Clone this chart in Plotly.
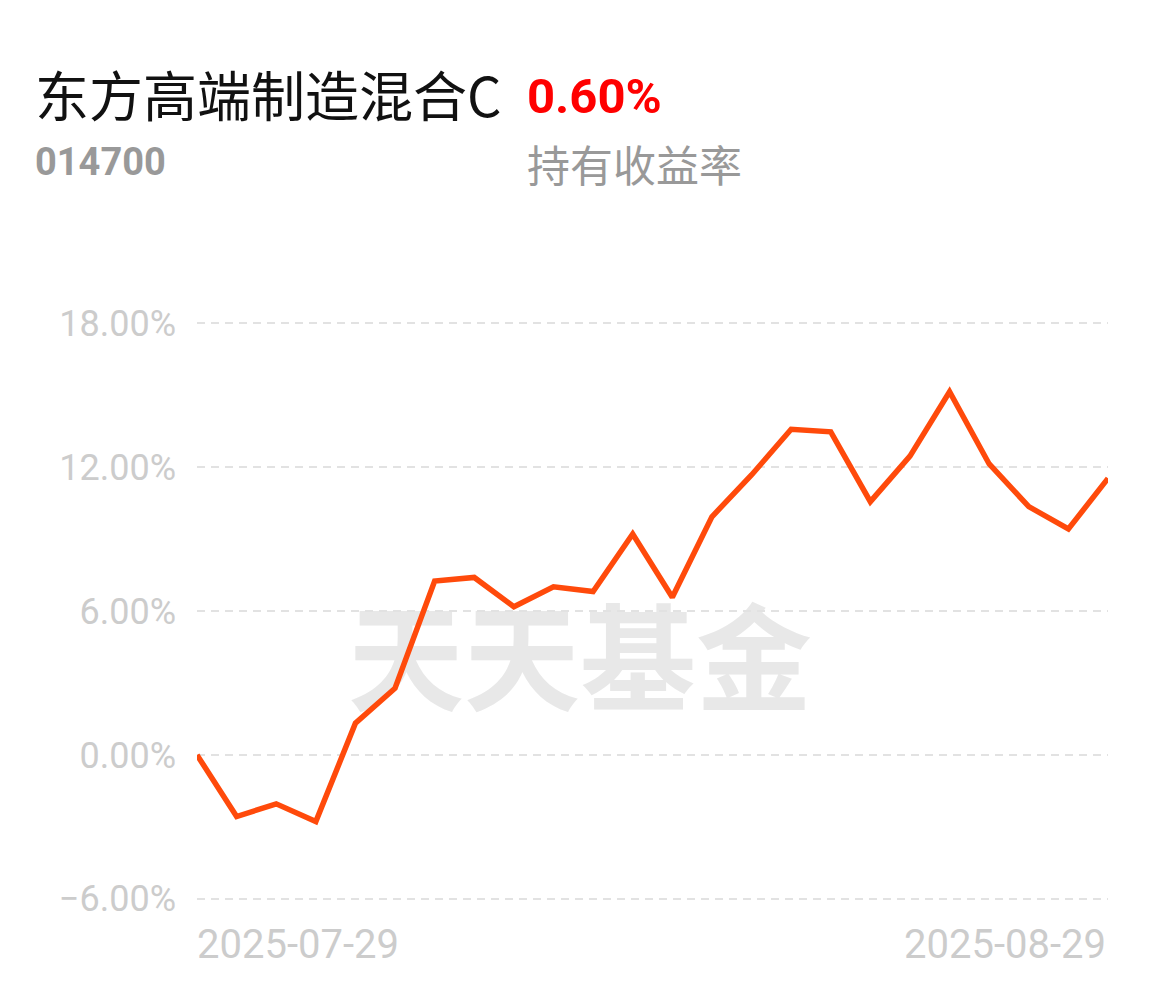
import plotly.graph_objects as go

dates = ["2025-07-29", "2025-07-30", "2025-07-31", "2025-08-01",
         "2025-08-04", "2025-08-05", "2025-08-06", "2025-08-07", "2025-08-08",
         "2025-08-11", "2025-08-12", "2025-08-13", "2025-08-14", "2025-08-15",
         "2025-08-18", "2025-08-19", "2025-08-20", "2025-08-21", "2025-08-22",
         "2025-08-25", "2025-08-26", "2025-08-27", "2025-08-28", "2025-08-29"]
returns = [0.00, -2.57, -2.04, -2.78, 1.32, 2.78, 7.25, 7.40, 6.18, 7.01,
           6.81, 9.21, 6.57, 9.93, 11.67, 13.58, 13.47, 10.56, 12.46, 15.14,
           12.13, 10.35, 9.42, 11.53]
y_ticks = [-6, 0, 6, 12, 18]
y_ticktext = ["\u22126.00%", "0.00%", "6.00%", "12.00%", "18.00%"]
fund_name = "东方高端制造混合C"
fund_code = "014700"
hold_return = "0.60%"
hold_label = "持有收益率"
watermark = "天天基金"

OFF = 8  # page body margin
W, H = 1150, 978
L, R, T, B = 189, 50, 314, 86
PW, PH = W - L - R, H - T - B


def px(x):
    return (x - OFF - L) / PW


def py(y):
    return (H - B - (y - OFF)) / PH


fig = go.Figure()
fig.add_trace(go.Scatter(
    x=dates, y=returns, mode="lines",
    line=dict(color="#FF4A0B", width=5.5),
    hoverinfo="skip", showlegend=False,
))

fig.update_layout(
    width=W, height=H, autosize=False,
    margin=dict(l=L, r=R, t=T, b=B, pad=0),
    paper_bgcolor="white", plot_bgcolor="white",
    showlegend=False,
    font=dict(family="Roboto, 'Noto Sans CJK SC', sans-serif"),
    xaxis=dict(type="category", range=[0, len(dates) - 1],
               showgrid=False, zeroline=False, showline=False,
               showticklabels=False, ticks=""),
    yaxis=dict(range=[-6.05, 18.05], tickvals=y_ticks, ticktext=y_ticktext,
               showgrid=True, gridcolor="#e2e2e2",
               gridwidth=2, griddash="8px,6px", zeroline=False,
               showline=False, ticks="", ticklabelstandoff=20,
               tickfont=dict(family="Roboto", size=36, color="#cccccc")),
)

fig.add_shape(type="rect", xref="paper", yref="paper",
              x0=px(330), x1=px(830), y0=py(730), y1=py(610),
              line=dict(width=0), fillcolor="rgba(0,0,0,0)", layer="below",
              label=dict(text=watermark, textposition="middle center",
                         font=dict(family="Noto Sans CJK SC", size=116,
                                   color="#e8e8e8", weight="bold")))

ann = [
    dict(text=fund_name, x=px(33), y=py(94), xanchor="left", yanchor="middle",
         font=dict(family="Noto Sans CJK SC", size=54, color="#111111")),
    dict(text="<b>" + hold_return + "</b>", x=px(525), y=py(97), xanchor="left",
         yanchor="middle",
         font=dict(family="Roboto", size=49, color="#ff0000")),
    dict(text="<b>" + fund_code + "</b>", x=px(33), y=py(162), xanchor="left",
         yanchor="middle",
         font=dict(family="Roboto", size=38, color="#999999")),
    dict(text=hold_label, x=px(525), y=py(163), xanchor="left",
         yanchor="middle",
         font=dict(family="Noto Sans CJK SC", size=43, color="#999999")),
]
for a in ann:
    a.update(xref="paper", yref="paper", showarrow=False)
    fig.add_annotation(**a)

fig.add_annotation(text=dates[0], xref="x", x=dates[0], yref="paper",
                   y=py(944), xanchor="left", yanchor="middle", showarrow=False,
                   xshift=-2,
                   font=dict(family="Roboto", size=40, color="#cccccc"))
fig.add_annotation(text=dates[-1], xref="x", x=dates[-1], yref="paper",
                   y=py(944), xanchor="right", yanchor="middle", showarrow=False,
                   font=dict(family="Roboto", size=40, color="#cccccc"))

fig.write_html("out.html")
